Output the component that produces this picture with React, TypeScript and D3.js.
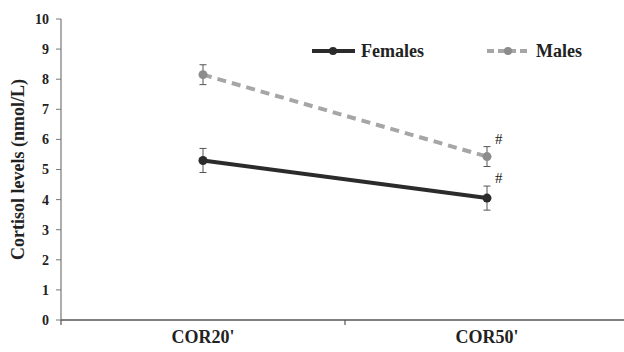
import * as d3 from 'd3'
import * as React from 'react'

const categories = ["COR20'", "COR50'"]
const femalesMean = [5.3, 4.05]
const femalesErr = [0.4, 0.4]
const malesMean = [8.15, 5.43]
const malesErr = [0.33, 0.33]
const yTicks = [0, 1, 2, 3, 4, 5, 6, 7, 8, 9, 10]
const significance = ['', '#']

const W = 624
const H = 352
const FONT = "'Times New Roman', 'Liberation Serif', Times, serif"

type Series = {
  name: string
  mean: number[]
  err: number[]
  color: string
  dot: string
  dash: string
  width: number
}

const series: Series[] = [
  { name: 'Females', mean: femalesMean, err: femalesErr, color: '#2b2b2b', dot: '#2b2b2b', dash: '', width: 4 },
  { name: 'Males', mean: malesMean, err: malesErr, color: '#a6a6a6', dot: '#8c8c8c', dash: '9,6', width: 4 },
]

export default function App() {
  const x = d3.scaleBand<string>().domain(categories).range([61, 629])
  const y = d3.scaleLinear().domain([0, 10]).range([320, 19])
  const cx = (c: string) => x(c)! + x.bandwidth() / 2
  const line = d3.line<number>()
    .x((_, i) => cx(categories[i]))
    .y(d => y(d))

  const legendItems = [
    { s: series[0], x0: 312 },
    { s: series[1], x0: 487 },
  ]

  return (
    <svg width={W} height={H} style={{ position: 'absolute', left: 0, top: 0, background: '#fff' }}>
      {/* axes */}
      <line x1={61} x2={61} y1={y(10)} y2={y(0)} stroke="#777" strokeWidth={1.2} />
      <line x1={61} x2={W} y1={y(0)} y2={y(0)} stroke="#555" strokeWidth={1.5} />
      {yTicks.map(t => (
        <g key={t}>
          <line x1={56} x2={61} y1={y(t)} y2={y(t)} stroke="#777" />
          <text x={49} y={y(t)} dy="0.35em" textAnchor="end" fontFamily={FONT}
            fontWeight="bold" fontSize={14} fill="#222">{t}</text>
        </g>
      ))}
      {[61, x(categories[1])!].map((tx, i) => (
        <line key={i} x1={tx} x2={tx} y1={y(0)} y2={y(0) + 5} stroke="#555" strokeWidth={1.2} />
      ))}
      {categories.map(c => (
        <text key={c} x={cx(c)} y={343} textAnchor="middle" fontFamily={FONT}
          fontWeight="bold" fontSize={18} fill="#222">{c}</text>
      ))}
      <text transform={`translate(24,${y(5)}) rotate(-90)`} textAnchor="middle"
        fontFamily={FONT} fontWeight="bold" fontSize={18} fill="#222">Cortisol levels (nmol/L)</text>

      {/* series */}
      {series.map(s => (
        <g key={s.name}>
          <path d={line(s.mean)!} fill="none" stroke={s.color} strokeWidth={s.width}
            strokeDasharray={s.dash || undefined} />
          {s.mean.map((m, i) => {
            const px = cx(categories[i])
            return (
              <g key={i}>
                <line x1={px} x2={px} y1={y(m + s.err[i])} y2={y(m - s.err[i])} stroke="#555" strokeWidth={1} />
                <line x1={px - 3.5} x2={px + 3.5} y1={y(m + s.err[i])} y2={y(m + s.err[i])} stroke="#555" strokeWidth={1} />
                <line x1={px - 3.5} x2={px + 3.5} y1={y(m - s.err[i])} y2={y(m - s.err[i])} stroke="#555" strokeWidth={1} />
                <circle cx={px} cy={y(m)} r={4.5} fill={s.dot} />
                {significance[i] && (
                  <text x={px + 8} y={y(m + s.err[i]) - 3} fontFamily={FONT} fontSize={15} fill="#222">
                    {significance[i]}
                  </text>
                )}
              </g>
            )
          })}
        </g>
      ))}

      {/* legend */}
      {legendItems.map(({ s, x0 }) => (
        <g key={s.name}>
          <line x1={x0} x2={x0 + 43} y1={51} y2={51} stroke={s.color} strokeWidth={s.width}
            strokeDasharray={s.dash ? '7,4' : undefined} />
          <circle cx={x0 + 21} cy={51} r={4} fill={s.dot} />
          <text x={x0 + 49} y={51} dy="0.35em" fontFamily={FONT} fontWeight="bold"
            fontSize={18} fill="#222">{s.name}</text>
        </g>
      ))}
    </svg>
  )
}
